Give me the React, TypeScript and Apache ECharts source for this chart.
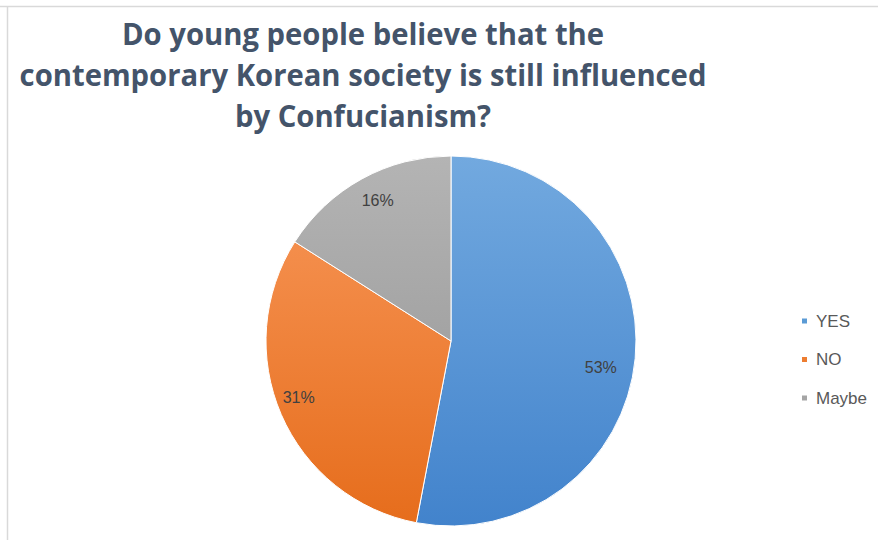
import React, { useEffect, useRef } from "react";
import * as echarts from "echarts";

const titleLines = [
  "Do young people believe that the",
  "contemporary Korean society is still influenced",
  "by Confucianism?",
];
const categories = ["YES", "NO", "Maybe"];
const values = [53, 31, 16];
const legendColors = ["#5b9bd5", "#ed7d31", "#a5a5a5"];
const colorTops = ["#72a9df", "#f48e4c", "#b4b4b4"];
const colorBottoms = ["#4283cc", "#e66d1c", "#a3a3a3"];
const labelNudges = [
  [-10, 11],
  [-5, -7],
  [4, 0],
];

export default function App() {
  const ref = useRef<HTMLDivElement>(null);
  useEffect(() => {
    document.body.style.margin = "0";
    if (!ref.current) return;
    const chart = echarts.init(ref.current, undefined, { renderer: "svg" });
    const grad = (i: number) =>
      new echarts.graphic.LinearGradient(0, 0, 0, 1, [
        { offset: 0, color: colorTops[i] },
        { offset: 1, color: colorBottoms[i] },
      ]);
    const data = categories.map((c, i) => ({
      name: c,
      value: values[i],
      itemStyle: { color: grad(i) },
    }));
    chart.setOption({
      animation: false,
      backgroundColor: "#ffffff",
      color: legendColors,
      legend: {
        orient: "vertical",
        left: 800,
        top: 312,
        padding: 0,
        itemWidth: 7,
        itemHeight: 7,
        itemGap: 20.5,
        icon: "rect",
        data: categories.map((c, i) => ({
          name: c,
          itemStyle: { color: legendColors[i] },
        })),
        textStyle: {
          fontFamily: "Liberation Sans",
          fontSize: 17,
          lineHeight: 18,
          color: "#595959",
          padding: [0, 0, 0, 3],
        },
      },
      graphic: [
        {
          type: "line",
          shape: { x1: 0, y1: 6.5, x2: 878, y2: 6.5 },
          style: { stroke: "#d9d9d9", lineWidth: 1.5 },
        },
        {
          type: "line",
          shape: { x1: 7.5, y1: 6, x2: 7.5, y2: 540 },
          style: { stroke: "#d9d9d9", lineWidth: 1.5 },
        },
        {
          type: "text",
          x: 363,
          y: 13,
          scaleX: 0.975,
          style: {
            text: titleLines.join("\n"),
            fontFamily: "Open Sans",
            fontWeight: "bold",
            fontSize: 30,
            lineHeight: 41,
            fill: "#44546a",
            align: "center",
            verticalAlign: "top",
          },
        },
      ],
      series: [
        {
          type: "pie",
          center: [451, 341],
          radius: 185,
          startAngle: 90,
          clockwise: true,
          label: { show: false },
          labelLine: { show: false },
          itemStyle: { borderColor: "#ffffff", borderWidth: 1 },
          data,
        },
        {
          type: "pie",
          center: [451, 341],
          radius: [130, 185],
          startAngle: 90,
          clockwise: true,
          silent: true,
          legendHoverLink: false,
          itemStyle: { color: "rgba(0,0,0,0)" },
          label: {
            show: true,
            position: "inside",
            formatter: "{d}%",
            fontFamily: "Liberation Sans",
            fontSize: 16,
            color: "#404040",
          },
          labelLine: { show: false },
          data: categories.map((c, i) => ({
            name: c + " ",
            value: values[i],
            label: { offset: labelNudges[i] },
          })),
        },
      ],
    });
    return () => chart.dispose();
  }, []);
  return <div ref={ref} style={{ width: 878, height: 540 }} />;
}
